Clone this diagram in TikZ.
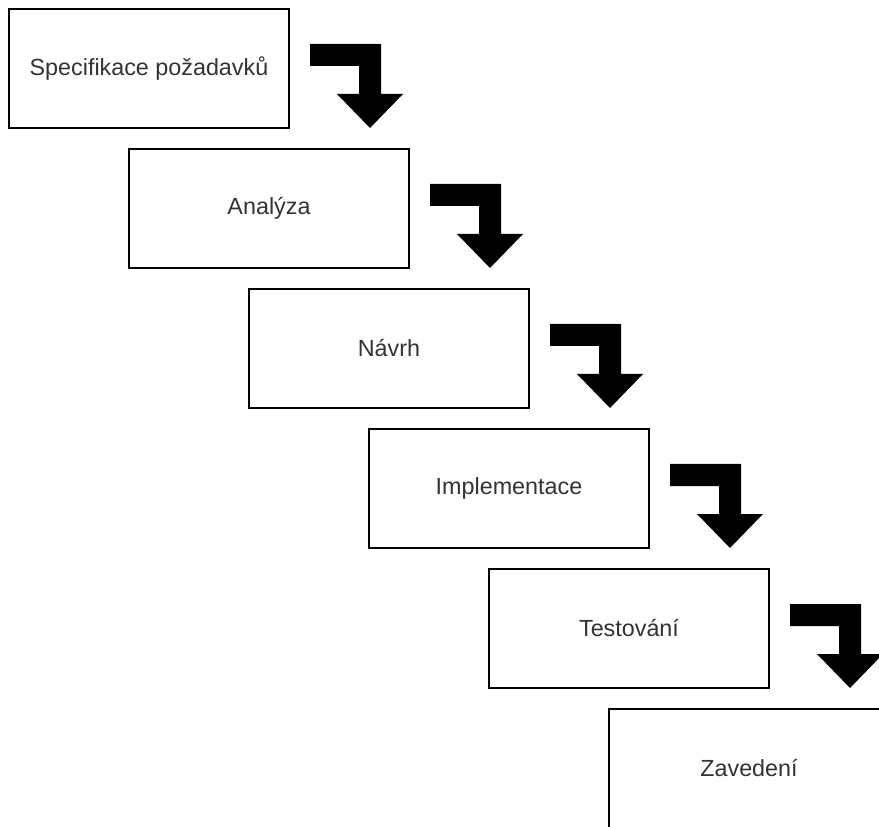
\documentclass[tikz,border=0pt]{standalone}
\usepackage{fontspec}
\setmainfont{Liberation Sans}
\definecolor{labelgray}{HTML}{333333}
\begin{document}
\begin{tikzpicture}[x=0.75pt,y=-0.75pt,
  phase/.style={draw=black,line width=1.5pt,fill=white,
    minimum width=210pt,minimum height=89.25pt,inner sep=0pt,
    text=labelgray,font=\fontsize{17.5pt}{21pt}\selectfont},
  bentarrow/.pic={
    \fill[black] (20,36) -- (91,36) -- (91,86) -- (113,86) -- (80,120)
      -- (47,86) -- (69,86) -- (69,58) -- (20,58) -- cycle;
  }]
\useasboundingbox (0,0) rectangle (879,827);
\fill[white] (0,0) rectangle (879,827);
\clip (0,0) rectangle (879,827);

\node[phase] (s1) at (149,68.5) {Specifikace požadavků};
\node[phase] (s2) at (269,208.5) {Analýza};
\node[phase] (s3) at (389,348.5) {Návrh};
\node[phase] (s4) at (509,488.5) {Implementace};
\node[phase] (s5) at (629,628.5) {Testování};
\node[phase] (s6) at (749,768.5) {Zavedení};

\foreach \n in {1,...,5}{
  \pic at (s\n.north east) {bentarrow};
}
\end{tikzpicture}
\end{document}
